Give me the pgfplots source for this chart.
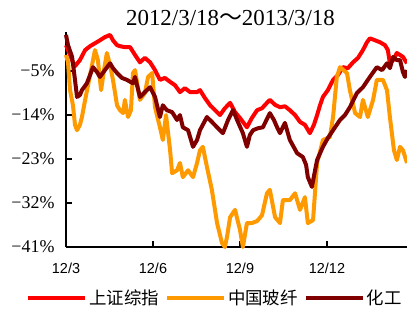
\documentclass[border=0pt]{standalone}
\usepackage{pgfplots}
\pgfplotsset{compat=1.18}
\usepackage{fontspec}
\setmainfont{Liberation Serif}
\newfontfamily\cjk{Noto Sans CJK SC}
\newfontfamily\arial{Liberation Sans}
\definecolor{cRed}{RGB}{255,0,0}
\definecolor{cOrange}{RGB}{255,153,0}
\definecolor{cDark}{RGB}{128,0,0}
\begin{document}
\begin{tikzpicture}
\begin{axis}[
  at={(66bp,62bp)}, anchor=south west,
  scale only axis, width=341bp, height=215bp,
  xmin=0, xmax=11.76, ymin=-41, ymax=3,
  clip=false,
  axis x line*=bottom, axis y line*=left,
  axis line style={line width=1.8bp, black},
  tick align=inside, major tick length=6bp,
  every tick/.style={line width=1.6bp, black},
  xtick={0,3,6,9}, xticklabels={12/3,12/6,12/9,12/12},
  ytick={-41,-32,-23,-14,-5},
  yticklabels={−41\%,−32\%,−23\%,−14\%,−5\%},
  xticklabel style={font=\arial\fontsize{14.5}{14.5}\selectfont, yshift=-13bp},
  yticklabel style={font=\fontsize{18}{18}\selectfont, xshift=-8bp},
  title={\fontsize{23}{23}\selectfont 2012/3/18{\cjk ～}2013/3/18},
  title style={yshift=-3bp, xshift=-6bp},
  legend columns=3,
  legend image code/.code={\draw[#1, line width=4bp] (0bp,0bp) -- (57bp,0bp);},
  legend style={at={(-0.117,-0.237)}, anchor=west, draw=none, inner sep=0pt,
    font=\cjk\fontsize{17.5}{17.5}\selectfont,
    /tikz/every even column/.append style={column sep=4bp},
    nodes={inner sep=2bp}},
  every axis plot/.append style={line width=4bp, line join=round, mark=none},
]
\addplot[cRed] table {
0.00 0.3
0.14 -1.7
0.24 -3.2
0.31 -4.0
0.48 -2.75
0.66 -0.7
0.83 0.1
1.00 0.7
1.17 1.3
1.34 1.95
1.52 2.4
1.62 1.3
1.76 0.3
1.86 0.1
2.03 -0.1
2.21 -0.1
2.38 -1.7
2.55 -3.2
2.72 -2.3
2.90 -3.2
3.07 -4.8
3.24 -6.8
3.41 -6.4
3.59 -7.2
3.76 -7.9
3.93 -9.3
4.10 -8.5
4.28 -9.3
4.52 -9.3
4.62 -8.9
4.79 -10.5
4.97 -12.0
5.14 -13.0
5.31 -14.0
5.48 -12.6
5.66 -11.5
5.83 -13.4
6.00 -14.6
6.24 -16.5
6.41 -14.6
6.59 -13.0
6.76 -12.6
6.93 -11.5
7.03 -10.9
7.21 -11.9
7.38 -12.4
7.55 -12.2
7.72 -13.0
7.90 -14.0
8.07 -15.4
8.24 -16.0
8.41 -17.7
8.55 -16.0
8.66 -14.0
8.76 -12.0
8.86 -10.3
9.03 -8.9
9.21 -6.8
9.38 -5.8
9.55 -4.2
9.72 -4.4
9.90 -3.2
10.07 -2.3
10.24 -0.7
10.38 0.9
10.48 1.7
10.66 1.3
10.83 0.9
11.00 0.3
11.10 -0.7
11.17 -3.4
11.28 -2.75
11.41 -1.3
11.52 -1.7
11.62 -2.1
11.76 -3.4
};
\addlegendentry{上证综指}
\addplot[cOrange] table {
0.00 -1.7
0.07 -3.2
0.14 -8.9
0.24 -12.0
0.31 -16.0
0.38 -17.1
0.48 -16.0
0.55 -14.4
0.66 -10.9
0.83 -5.8
1.00 -0.7
1.10 -2.75
1.21 -8.9
1.31 -4.8
1.41 -1.3
1.52 -3.8
1.62 -6.8
1.76 -12.0
1.86 -13.0
1.97 -13.6
2.03 -10.9
2.14 -14.4
2.24 -13.0
2.31 -5.4
2.38 -4.8
2.55 -10.9
2.72 -9.5
2.83 -6.2
2.97 -5.4
3.07 -12.4
3.24 -16.5
3.34 -19.1
3.45 -14.0
3.59 -21.2
3.66 -25.9
3.83 -25.3
3.93 -23.8
4.03 -26.7
4.21 -25.3
4.38 -26.7
4.52 -23.8
4.62 -21.2
4.72 -20.5
4.86 -24.6
5.03 -29.3
5.21 -36.1
5.38 -40.2
5.48 -41.0
5.55 -39.0
5.66 -34.9
5.83 -33.4
6.00 -37.5
6.10 -41.0
6.24 -36.1
6.41 -36.1
6.59 -35.7
6.76 -34.5
6.93 -30.0
7.03 -29.3
7.21 -34.9
7.38 -36.1
7.48 -31.4
7.72 -31.4
7.90 -30.0
8.07 -33.4
8.24 -30.8
8.34 -36.1
8.52 -35.5
8.66 -23.8
8.86 -19.1
9.10 -18.5
9.21 -14.4
9.34 -6.2
9.45 -4.2
9.69 -5.4
9.79 -8.9
9.97 -13.6
10.14 -14.4
10.24 -10.9
10.41 -14.4
10.59 -10.9
10.72 -6.8
10.93 -6.8
11.07 -8.9
11.17 -14.4
11.31 -21.2
11.41 -23.2
11.52 -20.5
11.62 -21.2
11.76 -23.8
};
\addlegendentry{中国玻纤}
\addplot[cDark] table {
0.00 2.4
0.07 0.3
0.21 -2.1
0.31 -6.8
0.38 -10.3
0.48 -9.9
0.55 -8.9
0.72 -7.5
0.83 -5.8
0.93 -4.2
1.07 -5.2
1.17 -6.2
1.34 -4.8
1.52 -3.4
1.62 -4.4
1.76 -5.4
1.93 -6.4
2.10 -6.8
2.31 -7.5
2.38 -6.2
2.55 -10.3
2.79 -8.9
2.90 -8.3
3.07 -10.3
3.24 -14.4
3.34 -12.0
3.48 -13.0
3.66 -13.4
3.83 -15.0
3.93 -14.0
4.03 -16.5
4.21 -17.1
4.38 -20.5
4.52 -19.1
4.62 -17.1
4.86 -14.4
5.03 -15.4
5.21 -16.5
5.41 -17.7
5.59 -15.0
5.76 -13.0
5.90 -15.0
6.10 -17.7
6.24 -20.5
6.34 -18.1
6.45 -17.1
6.62 -16.7
6.79 -16.5
7.03 -13.6
7.17 -15.0
7.28 -16.5
7.38 -17.7
7.55 -15.6
7.72 -19.1
7.97 -21.8
8.17 -22.6
8.28 -24.2
8.34 -26.7
8.48 -28.7
8.59 -25.3
8.66 -23.2
8.86 -20.5
9.03 -18.7
9.21 -17.1
9.45 -15.0
9.62 -14.0
9.79 -12.4
10.03 -9.5
10.24 -8.3
10.48 -6.2
10.72 -4.2
10.90 -4.8
11.07 -3.4
11.17 -4.4
11.28 -2.1
11.41 -2.75
11.52 -2.75
11.62 -5.2
11.69 -6.2
11.76 -4.8
};
\addlegendentry{化工}
\end{axis}
\pgfresetboundingbox
\path[use as bounding box] (0,0) rectangle (407bp,309bp);
\end{tikzpicture}
\end{document}
